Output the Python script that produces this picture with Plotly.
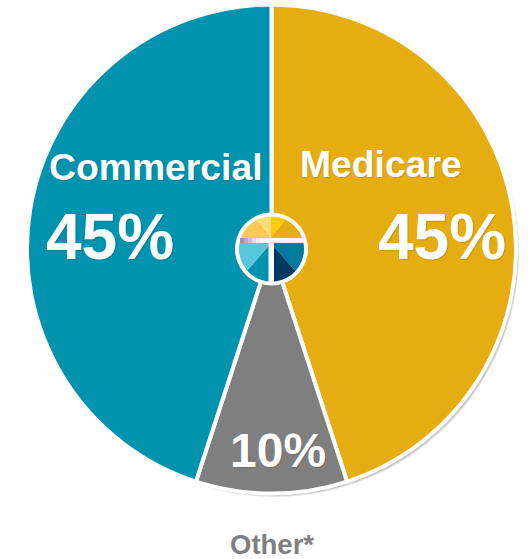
import plotly.graph_objects as go

W, H = 531, 559

# Main pie
main_labels = ["Medicare", "Other*", "Commercial"]
main_values = [45, 10, 45]
main_colors = ["#E6AD10", "#7F7F7F", "#0093AE"]

# Emblem in the middle of the pie (slice angles, clockwise from 12 o'clock)
upper_values = [37, 53, 180, 53, 37]
upper_colors = ["#FFCB05", "#E6AD10", "rgba(0,0,0,0)", "#FDC94F", "#FEDC78"]
lower_values = [90, 49, 41, 41, 49, 90]
lower_colors = ["rgba(0,0,0,0)", "#007A9E", "#003A63", "#0093AE", "#55C8DC", "rgba(0,0,0,0)"]

# Soft shadow layers
shadow_offsets = [1, 2, 3, 4]

CX, CY, R = 271.5, 249, 244.5
EX, EY = 271, 249
HOLE_R = 34.5


def px(x):
    return x / W


def py(y):
    return 1 - y / H


def domain(cx, cy, r):
    return dict(x=[px(cx - r), px(cx + r)], y=[py(cy + r), py(cy - r)])


def pie(values, colors, cx, cy, r, line=0, hole=0):
    return go.Pie(
        values=values, sort=False, direction="clockwise", rotation=0,
        domain=domain(cx, cy, r), hole=hole, textinfo="none", showlegend=False,
        hoverinfo="skip",
        marker=dict(colors=colors, line=dict(color="white", width=line)),
    )


fig = go.Figure()
for k in shadow_offsets:
    fig.add_trace(pie([1], ["rgba(0,0,0,0.09)"], CX + k * 0.9, CY + k, R + 1 - 0.4 * k))
fig.add_trace(pie([1], ["white"], CX, CY, R + 1.5))
fig.add_trace(pie([1], ["white"], EX, EY, 50))
fig.add_trace(pie(upper_values, upper_colors, EX, 238, 50))
fig.add_trace(pie(lower_values, lower_colors, EX, 243, 50))
fig.add_trace(pie(main_values, main_colors, CX, CY, R, line=4, hole=HOLE_R / R))

# White cross-bar of the emblem
shapes = [
    dict(type="rect", xref="paper", yref="paper", x0=px(237), x1=px(305), y0=py(243), y1=py(238),
         fillcolor="white", line_width=0, layer="above"),
    dict(type="rect", xref="paper", yref="paper", x0=px(268.5), x1=px(274), y0=py(283), y1=py(238),
         fillcolor="white", line_width=0, layer="above"),
]
grays = ["#9a9a9a", "#b0b0b0", "#c8c8c8", "#dedede", "#f0f0f0"]
for i, g in enumerate(grays):
    shapes.append(dict(type="rect", xref="paper", yref="paper",
                       x0=px(240 + 4 * i), x1=px(244 + 4 * i), y0=py(243), y1=py(238),
                       fillcolor=g, line_width=0, layer="above"))


def note(text, x, y, size, color="white", shadow="1px 1px 1px rgba(0,0,0,0.15)"):
    return dict(text=f"<b>{text}</b>", x=px(x), y=py(y), xref="paper", yref="paper",
                xanchor="center", yanchor="middle", showarrow=False,
                font=dict(family="Liberation Sans", size=size, color=color, shadow=shadow))


annotations = [
    note(main_labels[2], 156, 167, 37.3),
    note(f"{main_values[2]}%", 110, 237, 64),
    note(main_labels[0], 381, 164, 37.3),
    note(f"{main_values[0]}%", 442, 237, 64),
    note(f"{main_values[1]}%", 278, 450, 48),
    note(main_labels[1], 272, 544, 27.5, color="#7F7F7F", shadow="none"),
]

fig.update_layout(width=W, height=H, margin=dict(l=0, r=0, t=0, b=0), autosize=False,
                  paper_bgcolor="white", plot_bgcolor="white", shapes=shapes,
                  annotations=annotations)
fig.write_html("out.html", config={"displayModeBar": False},
               post_script="document.body.style.margin='0';")
